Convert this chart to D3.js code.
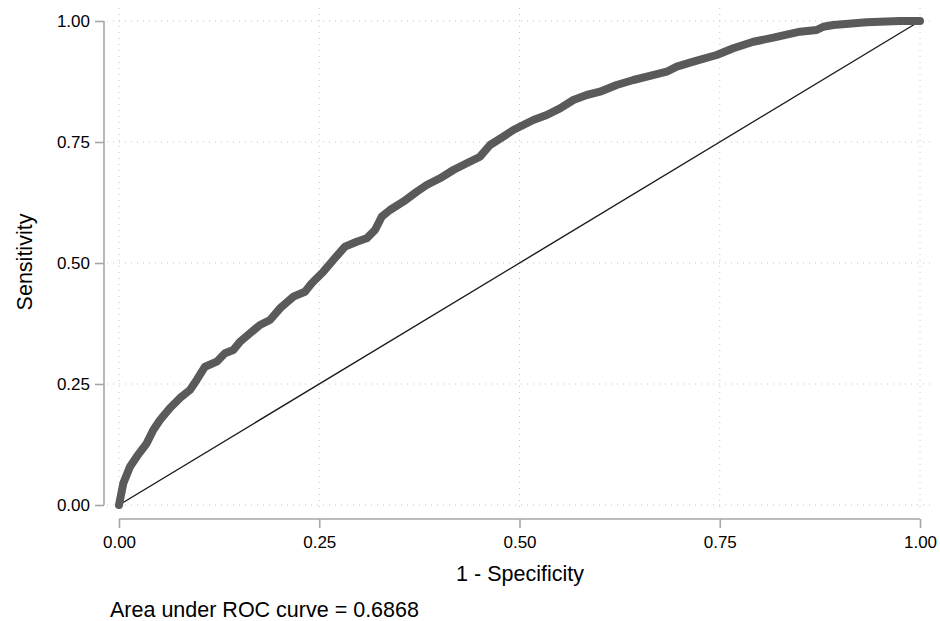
<!DOCTYPE html>
<html><head><meta charset="utf-8">
<script src="https://cdn.jsdelivr.net/npm/d3@7"></script>
<style>body{margin:0;background:#fff}svg{display:block}text{font-family:Arial,"Liberation Sans",sans-serif;fill:#000}</style>
</head><body>
<svg id="c" width="940" height="621"></svg>
<script>
const fpr = [0,0.0054,0.0137,0.0221,0.0346,0.0428,0.0512,0.0637,0.0762,0.0886,0.097,0.1074,0.122,0.1323,0.1427,0.1511,0.1635,0.176,0.1885,0.201,0.2176,0.2322,0.2406,0.2551,0.2675,0.2821,0.2968,0.3092,0.3196,0.328,0.3383,0.3549,0.3717,0.3841,0.4007,0.4174,0.4341,0.4507,0.4632,0.4798,0.4923,0.5047,0.5172,0.534,0.5506,0.5672,0.5839,0.6005,0.6213,0.6421,0.6629,0.6838,0.6963,0.717,0.7462,0.7669,0.7919,0.8169,0.8502,0.871,0.8793,0.8918,0.9335,0.975,1];
const tpr = [0,0.0448,0.0791,0.0998,0.1275,0.155,0.1756,0.2004,0.2211,0.2376,0.2583,0.2857,0.2961,0.3134,0.3202,0.3374,0.3548,0.3719,0.3822,0.4064,0.4304,0.4407,0.4581,0.482,0.5062,0.5337,0.544,0.551,0.5682,0.5957,0.6095,0.6267,0.6473,0.6612,0.675,0.6921,0.706,0.7196,0.7438,0.761,0.7748,0.7851,0.7955,0.8058,0.8196,0.8368,0.8471,0.8539,0.8678,0.8781,0.8864,0.8952,0.9056,0.9159,0.9298,0.9436,0.9572,0.9655,0.9779,0.9814,0.9882,0.9917,0.9973,1,1];
const tickValues = [0,0.25,0.5,0.75,1];
const tickLabels = ["0.00","0.25","0.50","0.75","1.00"];
const xTitle = "1 - Specificity";
const yTitle = "Sensitivity";
const note = "Area under ROC curve = 0.6868";

const svg = d3.select("#c");
const x = d3.scaleLinear().domain([0,1]).range([119,920]);
const y = d3.scaleLinear().domain([0,1]).range([505,21]);

// grid
const g = svg.append("g");
tickValues.forEach(v=>{
  g.append("line").attr("x1",107).attr("x2",933).attr("y1",y(v)).attr("y2",y(v))
   .attr("stroke","#c4c4c4").attr("stroke-width",1).attr("stroke-dasharray","1,5");
  g.append("line").attr("y1",8).attr("y2",512).attr("x1",x(v)).attr("x2",x(v))
   .attr("stroke","#c4c4c4").attr("stroke-width",1).attr("stroke-dasharray","1,5");
});

// axes
const xAxis = d3.axisBottom(x).tickValues(tickValues).tickFormat((d,i)=>tickLabels[i]).tickSize(9).tickPadding(8);
const yAxis = d3.axisLeft(y).tickValues(tickValues).tickFormat((d,i)=>tickLabels[i]).tickSize(9).tickPadding(5);
const gx = svg.append("g").attr("transform","translate(0,519)").call(xAxis);
const gy = svg.append("g").attr("transform","translate(104,0)").call(yAxis);
[gx,gy].forEach(a=>{
  a.select(".domain").attr("stroke","#a6a6a6").attr("stroke-width",1.6);
  a.selectAll(".tick line").attr("stroke","#a6a6a6").attr("stroke-width",1.6);
  a.selectAll(".tick text").attr("font-size",17).attr("font-family","Arial, 'Liberation Sans', sans-serif").attr("fill","#000");
});
gx.select(".domain").attr("d",`M${x(0)},0H${x(1)}`);
gy.select(".domain").attr("d",`M0,${y(1)}V${y(0)}`);

// diagonal
svg.append("line").attr("x1",x(0)).attr("y1",y(0)).attr("x2",x(1)).attr("y2",y(1))
  .attr("stroke","#1a1a1a").attr("stroke-width",1.4);

// ROC curve
const pts = fpr.map((d,i)=>[d,tpr[i]]);
svg.append("path").datum(pts)
  .attr("d",d3.line().x(d=>x(d[0])).y(d=>y(d[1])))
  .attr("fill","none").attr("stroke","#5a5a5a").attr("stroke-width",8)
  .attr("stroke-linejoin","round").attr("stroke-linecap","round");

// titles
svg.append("text").attr("x",520).attr("y",581).attr("text-anchor","middle").attr("font-size",21.5).text(xTitle);
svg.append("text").attr("transform","translate(32,262) rotate(-90)").attr("text-anchor","middle").attr("font-size",21.5).text(yTitle);
svg.append("text").attr("x",110).attr("y",617).attr("font-size",21.5).text(note);
</script>
</body></html>
